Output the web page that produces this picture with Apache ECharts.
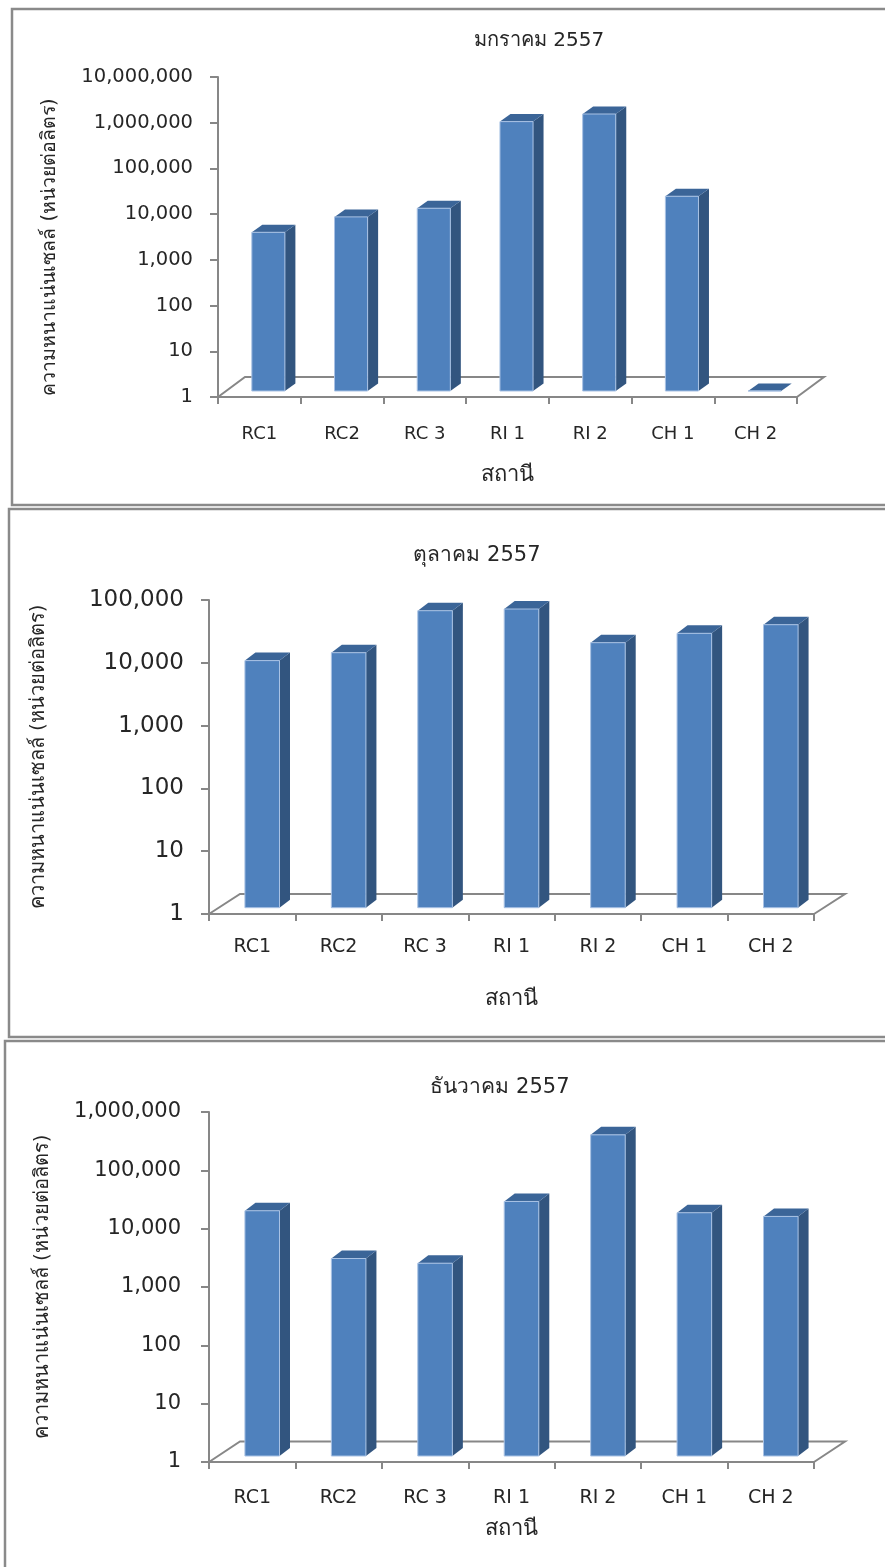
<!DOCTYPE html>
<html>
<head>
<meta charset="utf-8">
<script src="https://cdn.jsdelivr.net/npm/echarts@6/dist/echarts.min.js"></script>
<style>
  html, body { margin: 0; padding: 0; background: #ffffff; }
  #chart { width: 885px; height: 1567px; }
</style>
</head>
<body>
<div id="chart"></div>
<script>
// Station names along the category axis
const stations = ['RC1', 'RC2', 'RC 3', 'RI 1', 'RI 2', 'CH 1', 'CH 2'];

// Panel headings
const panelTitles = ['มกราคม 2557', 'ตุลาคม 2557', 'ธันวาคม 2557'];
const yAxisTitle = 'ความหนาแน่นเซลล์ (หน่วยต่อลิตร)';
const xAxisTitle = 'สถานี';

// Cell density (cells per litre) per station
const janValues = [2960, 6440, 9950, 781000, 1146000, 18200, 0];
const octValues = [8600, 11500, 53600, 57000, 16600, 23400, 32100];
const decValues = [16000, 2430, 2020, 23100, 320000, 14800, 12800];

// Upper end of each panel's log scale
const yMaxValues = [10000000, 100000, 1000000];

const panelValues = [janValues, octValues, decValues];

// Geometry of each panel: plot box, pseudo-3D depth and text placement
const layout = [
  {
    frame: [12, 9, 890, 496],
    grid: { left: 218, top: 77, width: 579, height: 320 },
    floor: [27, -20], face: [9, -6], depth: [10.5, -7.5],
    yFont: 19.5, xFont: 18, yMargin: 25, xMargin: 28,
    title: [534, 36], titleFont: 20,
    yNameGap: 158, yNameFont: 19.5, yNamePad: [0, 20, 0, 0], xNameGap: 67, xNameFont: 22
  },
  {
    frame: [9, 509, 890, 528],
    grid: { left: 209, top: 600, width: 605, height: 314 },
    floor: [31, -20], face: [10, -6.3], depth: [10.5, -8],
    yFont: 23, xFont: 19, yMargin: 25, xMargin: 24,
    title: [472, 551], titleFont: 21,
    yNameGap: 160, yNameFont: 20, yNamePad: [0, 0, 0, 0], xNameGap: 74, xNameFont: 22
  },
  {
    frame: [5, 1041, 890, 540],
    grid: { left: 209, top: 1112, width: 605, height: 350 },
    floor: [31, -20.5], face: [10, -6], depth: [10.5, -8],
    yFont: 21, xFont: 19, yMargin: 28, xMargin: 27,
    title: [495, 1083], titleFont: 21,
    yNameGap: 156, yNameFont: 20, yNamePad: [0, 0, 0, 0], xNameGap: 56, xNameFont: 22
  }
];

const FONT = "'DejaVu Sans', 'Noto Sans', sans-serif";
const TEXT = '#262626';
const AXIS = '#878787';
const FRONT = '#4f81bd';
const SIDE = '#32557f';
const TOP = '#3b6598';
const EDGE = '#a9c2e4';

const fmt = v => Math.round(v).toLocaleString('en-US');

// Outline of the floor: the side and back edges (the front edge is the category axis)
function floorRenderer(floor, count) {
  return function (params, api) {
    const c = api.coord([0, 1]);
    const bw = api.size([1, 0])[0];
    const left = c[0] - bw / 2;
    const right = left + bw * count;
    const y = c[1];
    return {
      type: 'polyline',
      shape: { points: [[left, y], [left + floor[0], y + floor[1]], [right + floor[0], y + floor[1]], [right, y]] },
      style: { stroke: AXIS, lineWidth: 2, fill: null }
    };
  };
}

// Box-shaped bar: front face, right side and top face
function barRenderer(L) {
  return function (params, api) {
    const i = api.value(0);
    const v = Math.max(api.value(1), 1);
    const base = api.coord([i, 1]);
    const top = api.coord([i, v]);
    const bw = api.size([1, 0])[0];
    const w = bw * 0.4;
    const x0 = base[0] - w / 2 + L.face[0];
    const x1 = x0 + w;
    const yb = base[1] + L.face[1];
    const yt = top[1] + L.face[1];
    const dx = L.depth[0], dy = L.depth[1];
    return {
      type: 'group',
      children: [
        { type: 'polygon', shape: { points: [[x1, yt], [x1 + dx, yt + dy], [x1 + dx, yb + dy], [x1, yb]] },
          style: { fill: SIDE } },
        { type: 'polygon', shape: { points: [[x0, yt], [x0 + dx, yt + dy], [x1 + dx, yt + dy], [x1, yt]] },
          style: { fill: TOP } },
        { type: 'rect', shape: { x: x0, y: yt, width: w, height: yb - yt },
          style: { fill: FRONT, stroke: EDGE, lineWidth: 1 } }
      ]
    };
  };
}

const grids = [], xAxes = [], yAxes = [], series = [], titles = [], frames = [];

layout.forEach((L, k) => {
  grids.push(Object.assign({ containLabel: false }, L.grid));

  xAxes.push({
    type: 'category', gridIndex: k, data: stations,
    name: xAxisTitle, nameLocation: 'middle', nameGap: L.xNameGap,
    nameTextStyle: { fontFamily: FONT, fontSize: L.xNameFont, color: TEXT },
    axisLine: { lineStyle: { color: AXIS, width: 2 } },
    axisTick: { show: true, length: 7, lineStyle: { color: AXIS, width: 2 } },
    axisLabel: { fontFamily: FONT, fontSize: L.xFont, color: TEXT, margin: L.xMargin, interval: 0 },
    splitLine: { show: false }
  });

  yAxes.push({
    type: 'log', logBase: 10, gridIndex: k, min: 1, max: yMaxValues[k], interval: 1,
    name: yAxisTitle, nameLocation: 'middle', nameGap: L.yNameGap, nameRotate: 90,
    nameTextStyle: { fontFamily: FONT, fontSize: L.yNameFont, color: TEXT, padding: L.yNamePad },
    axisLine: { show: true, lineStyle: { color: AXIS, width: 2 } },
    axisTick: { show: true, length: 8, lineStyle: { color: AXIS, width: 2 } },
    axisLabel: { fontFamily: FONT, fontSize: L.yFont, color: TEXT, margin: L.yMargin, formatter: fmt },
    splitLine: { show: false }
  });

  series.push({
    type: 'custom', xAxisIndex: k, yAxisIndex: k, z: 1, clip: false, silent: true,
    renderItem: floorRenderer(L.floor, stations.length),
    data: [[0, 1]]
  });

  series.push({
    type: 'custom', xAxisIndex: k, yAxisIndex: k, z: 2, clip: false,
    renderItem: barRenderer(L),
    encode: { x: 0, y: 1 },
    data: panelValues[k].map((v, i) => [i, v])
  });

  titles.push({
    text: panelTitles[k], left: L.title[0], top: L.title[1], textAlign: 'center', textVerticalAlign: 'middle',
    textStyle: { fontFamily: FONT, fontSize: L.titleFont, fontWeight: 'normal', color: TEXT }
  });

  frames.push({
    type: 'rect', silent: true, z: -1,
    shape: { x: L.frame[0], y: L.frame[1], width: L.frame[2], height: L.frame[3] },
    style: { fill: null, stroke: '#8a8a8a', lineWidth: 2.5 }
  });
});

const chart = echarts.init(document.getElementById('chart'), null, { renderer: 'canvas' });
chart.setOption({
  animation: false,
  backgroundColor: '#ffffff',
  title: titles,
  grid: grids,
  xAxis: xAxes,
  yAxis: yAxes,
  series: series,
  graphic: frames
});
</script>
</body>
</html>
